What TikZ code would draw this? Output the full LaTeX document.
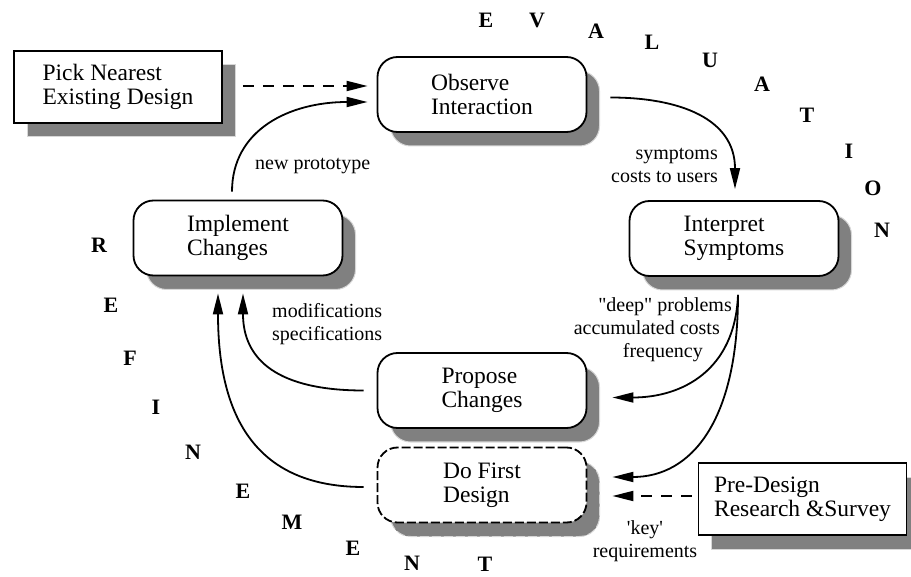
\documentclass[tikz,border=0pt]{standalone}
\usepackage{fontspec}
\setmainfont{Liberation Serif}
\usepackage{tikz}
\usetikzlibrary{arrows.meta,shadows,positioning}
\definecolor{shade-gray}{RGB}{128,128,128}
\definecolor{shade-edge}{RGB}{215,215,215}
\tikzset{>={Triangle[length=21pt,width=10pt]}}

\begin{document}
\begin{tikzpicture}[x=1pt,y=-1pt,
    box-shadow/.style={drop shadow={shadow xshift=13pt,shadow yshift=-14pt,fill=shade-gray,draw=shade-edge,line width=1pt,opacity=1}},
    round-box/.style={draw,line width=1.8pt,fill=white,rounded corners=20pt,minimum width=209pt,minimum height=75pt,align=left,font=\fontsize{23.5}{24}\selectfont,box-shadow},
    plain-box/.style={draw,line width=1.8pt,fill=white,minimum width=208pt,minimum height=72pt,align=left,font=\fontsize{23.5}{24}\selectfont,box-shadow},
    dashed-border/.style={dash pattern=on 9pt off 3pt},
    flow/.style={->,line width=1.8pt},
    hint/.style={flow,dash pattern=on 11pt off 9pt},
    note/.style={inner sep=0pt,font=\fontsize{20}{23}\selectfont},
    letter/.style={inner sep=0pt,font=\fontsize{22}{24}\selectfont\bfseries}]
    \useasboundingbox (0,0) rectangle (911,577);

    \node[plain-box] (pick-nearest) at (118,87) {Pick Nearest\\Existing Design};
    \node[round-box] (observe) at (482,94.5) {Observe\\Interaction};
    \node[round-box] (interpret) at (734,238.5) {Interpret\\Symptoms};
    \node[round-box] (implement) at (238,238) {Implement\\Changes};
    \node[round-box] (propose) at (482,390.5) {Propose\\Changes};
    \node[round-box,dashed-border] (first-design) at (482,485) {Do First\\Design};
    \node[plain-box] (pre-design) at (802.5,499) {Pre-Design\\Research \&Survey};

    \draw [hint] ([shift={(20,-1)}]pick-nearest.east) -- ([shift={(-9,-8.5)}]observe.west);
    \draw [flow] ([shift={(-6,-8)}]implement.north) .. controls +(0,-62) and +(-78,0) .. ([shift={(-9,7.5)}]observe.west);
    \draw [flow] ([shift={(23,3)}]observe.east) .. controls +(70,0) and +(0,-70) .. ([shift={(1,-11)}]interpret.north);
    \draw [flow] ([shift={(4,18)}]interpret.south) .. controls +(-3,76) and +(69,0) .. ([shift={(25,7)}]propose.east);
    \draw [flow] ([shift={(4,18)}]interpret.south) .. controls +(0,126) and +(79,0) .. ([shift={(25,-8)}]first-design.east);
    \draw [flow] ([shift={(-13,0)}]propose.west) .. controls +(-85,0) and +(0,67) .. ([shift={(5,17)}]implement.south);
    \draw [flow] ([shift={(-13,2)}]first-design.west) .. controls +(-105,0) and +(0,127) .. ([shift={(-20,17)}]implement.south);
    \draw [hint] ([shift={(-6,-3)}]pre-design.west) -- ([shift={(25,11)}]first-design.east);

    \node[note,anchor=base west] (proto-note) at (255,170) {new prototype};
    \node[note,align=right,anchor=east] (symptom-note) at (718,165) {symptoms\\costs to users};
    \node[note,align=left,anchor=west] (change-note) at (272,324) {modifications\\specifications};
    \node[note,anchor=base east] (deep-note) at (732,312) {\textquotedbl deep\textquotedbl{} problems};
    \node[note,anchor=base east] (cost-note) at (720,335) {accumulated costs};
    \node[note,anchor=base east] (freq-note) at (703,358) {frequency};
    \node[note,align=center] (key-note) at (645,541) {\textquotesingle key\textquotesingle\\requirements};

    \foreach \ch/\px/\py [count=\k] in {E/486/20,V/537/20,A/596/31,L/652/42,U/710/60,A/762/84,T/807/115,I/849/151,O/873/188,N/882/230}
        \node[letter] (eval-\k) at (\px,\py) {\ch};
    \foreach \ch/\px/\py [count=\k] in {R/99/245,E/111/305,F/130/358,I/156/407,N/193/452,E/243/491,M/292/522,E/353/548,N/412/563,T/485/564}
        \node[letter] (refine-\k) at (\px,\py) {\ch};
\end{tikzpicture}
\end{document}
